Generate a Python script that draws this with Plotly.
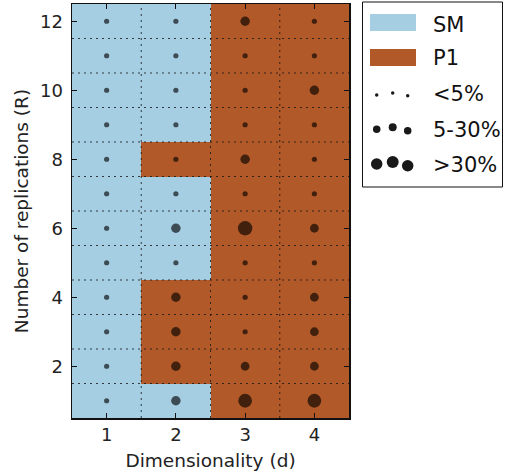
import plotly.graph_objects as go

# ---------------- data ----------------
dims = [1, 2, 3, 4]
reps = [1, 2, 3, 4, 5, 6, 7, 8, 9, 10, 11, 12]
methods = ["SM", "P1"]
method_colors = ["#a6cee3", "#b15928"]

# winning method for each replication count R = 1..12, one list per dimensionality d
winner_d1 = ["SM", "SM", "SM", "SM", "SM", "SM", "SM", "SM", "SM", "SM", "SM", "SM"]
winner_d2 = ["SM", "P1", "P1", "P1", "SM", "SM", "SM", "P1", "SM", "SM", "SM", "SM"]
winner_d3 = ["P1", "P1", "P1", "P1", "P1", "P1", "P1", "P1", "P1", "P1", "P1", "P1"]
winner_d4 = ["P1", "P1", "P1", "P1", "P1", "P1", "P1", "P1", "P1", "P1", "P1", "P1"]

# estimated margin (%) for each cell, R = 1..12
margin_d1 = [2, 2, 2, 2, 2, 2, 2, 2, 2, 2, 2, 2]
margin_d2 = [15, 15, 15, 15, 2, 15, 2, 2, 2, 2, 2, 2]
margin_d3 = [40, 12, 2, 2, 2, 45, 2, 15, 2, 2, 2, 15]
margin_d4 = [40, 12, 12, 12, 2, 12, 2, 2, 2, 15, 2, 2]

y_tick_vals = [2, 4, 6, 8, 10, 12]
legend_labels = ["<5%", "5-30%", ">30%"]

winners = [winner_d1, winner_d2, winner_d3, winner_d4]
margins = [margin_d1, margin_d2, margin_d3, margin_d4]

# ---------------- figure ----------------
W, H = 505, 473
ML, MR, MT, MB = 72, 156, 4, 55
PW, PH = W - ML - MR, H - MT - MB
DOT = "rgba(0,0,0,0.9)"

z = [[methods.index(winners[j][i]) for j in range(len(dims))] for i in range(len(reps))]

fig = go.Figure()
fig.add_trace(go.Heatmap(
    x=dims, y=reps, z=z, zmin=0, zmax=1,
    colorscale=[[0, method_colors[0]], [0.5, method_colors[0]],
                [0.5, method_colors[1]], [1, method_colors[1]]],
    showscale=False, hoverinfo="skip",
))

xs, ys, sizes = [], [], []
for j, d in enumerate(dims):
    for i, r in enumerate(reps):
        xs.append(d)
        ys.append(r)
        sizes.append(2.7 + 1.75 * margins[j][i] ** 0.5)

fig.add_trace(go.Scatter(
    x=xs, y=ys, mode="markers",
    marker=dict(size=sizes, color=DOT, line=dict(width=0)),
    hoverinfo="skip", showlegend=False,
))

shapes = []
grid_style = dict(color="rgba(20,20,20,0.8)", width=1, dash="2px,4px")
for k in range(len(dims) - 1):
    xv = (dims[k] + dims[k + 1]) / 2
    shapes.append(dict(type="line", xref="x", yref="paper", x0=xv, x1=xv, y0=0, y1=1,
                       line=grid_style, layer="above"))
for k in range(len(reps) - 1):
    yv = (reps[k] + reps[k + 1]) / 2
    shapes.append(dict(type="line", xref="paper", yref="y", x0=0, x1=1, y0=yv, y1=yv,
                       line=grid_style, layer="above"))

# ---- custom legend (pixel positions converted to paper coords) ----
def px(xp):
    return (xp - ML) / PW

def py(yp):
    return (H - MB - yp) / PH

shapes.append(dict(type="rect", xref="paper", yref="paper",
                   x0=px(362.5), x1=px(502.5), y0=py(2), y1=py(187),
                   line=dict(color="#111", width=1), fillcolor="white", layer="above"))
for k, (top, bot) in enumerate([(14, 31), (49, 66)]):
    shapes.append(dict(type="rect", xref="paper", yref="paper",
                       x0=px(370), x1=px(416), y0=py(bot), y1=py(top),
                       line=dict(width=0), fillcolor=method_colors[k], layer="above"))

dot_x = [376.7, 392.7, 407.7]
dot_rows = [
    ([95, 93, 95.7], [3.5, 3.5, 3.5]),
    ([129.3, 127.3, 130.7], [7.5, 8, 7.5]),
    ([164, 162, 165.7], [11.5, 12, 11.5]),
]
for ys_, ds_ in dot_rows:
    for cx, cy, dd in zip(dot_x, ys_, ds_):
        r = dd / 2
        shapes.append(dict(type="circle", xref="paper", yref="paper",
                           x0=px(cx - r), x1=px(cx + r), y0=py(cy + r), y1=py(cy - r),
                           line=dict(width=0), fillcolor=DOT, layer="above"))

annotations = []
leg_texts = methods + legend_labels
leg_y = [24.5, 57.5, 94, 130, 165]
for t, yy in zip(leg_texts, leg_y):
    annotations.append(dict(text=t, xref="paper", yref="paper", x=px(431), y=py(yy),
                            xanchor="left", yanchor="middle", showarrow=False,
                            font=dict(size=21, color="#111", family="DejaVu Sans")))

axis_common = dict(
    showline=True, linecolor="#111", linewidth=1.5, mirror="ticks",
    ticks="inside", ticklen=5, tickwidth=1, tickcolor="#111",
    showgrid=False, zeroline=False,
    tickfont=dict(size=18, color="#222", family="DejaVu Sans"),
)

fig.update_layout(
    width=W, height=H,
    margin=dict(l=ML, r=MR, t=MT, b=MB, autoexpand=False),
    paper_bgcolor="white", plot_bgcolor="white",
    showlegend=False,
    shapes=shapes, annotations=annotations,
    font=dict(family="DejaVu Sans", color="#222"),
    xaxis=dict(range=[0.5, 4.5], tickvals=dims, ticklabelstandoff=0,
               title=dict(text="Dimensionality (d)", font=dict(size=18.5, color="#222"), standoff=10),
               **axis_common),
    yaxis=dict(range=[0.5, 12.5], tickvals=y_tick_vals, ticklabelstandoff=4,
               title=dict(text="Number of replications (R)", font=dict(size=18.5, color="#222"), standoff=6),
               **axis_common),
)

fig.write_html(
    "out.html",
    config={"displayModeBar": False, "staticPlot": True},
    post_script="document.body.style.margin='0';document.body.style.overflow='hidden';",
)
